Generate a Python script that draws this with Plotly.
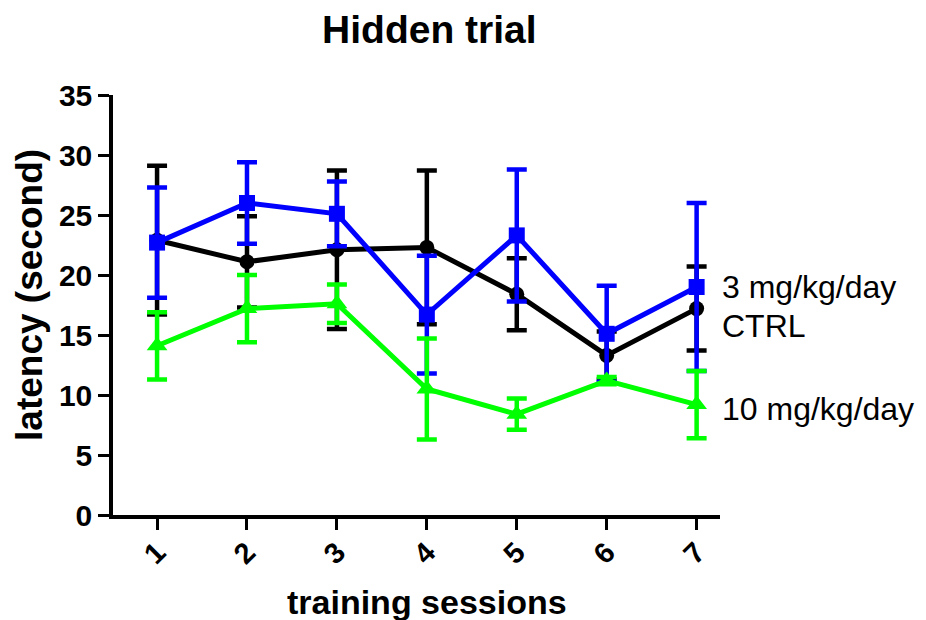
import plotly.graph_objects as go

sessions = [1, 2, 3, 4, 5, 6, 7]

ctrl_mean = [22.9, 21.1, 22.1, 22.3, 18.4, 13.3, 17.2]
ctrl_err = [6.2, 3.8, 6.6, 6.4, 3.0, 2.0, 3.5]

mg3_mean = [22.7, 26.0, 25.1, 16.7, 23.3, 15.1, 19.0]
mg3_err = [4.6, 3.4, 2.7, 4.9, 5.5, 4.0, 7.0]

mg10_mean = [14.1, 17.2, 17.6, 10.5, 8.4, 11.2, 9.2]
mg10_err = [2.8, 2.8, 1.6, 4.2, 1.3, 0.3, 2.8]

series_names = ["CTRL", "3 mg/kg/day", "10 mg/kg/day"]
y_ticks = [0, 5, 10, 15, 20, 25, 30, 35]

FONT = "Arial, Liberation Sans, sans-serif"

fig = go.Figure()

def add(name, mean, err, color, symbol, size):
    fig.add_trace(go.Scatter(
        x=sessions, y=mean, name=name, mode="lines+markers",
        line=dict(color=color, width=5),
        marker=dict(color=color, symbol=symbol, size=size),
        error_y=dict(type="data", array=err, visible=True, color=color,
                     thickness=4.5, width=10),
        showlegend=False,
    ))

add(series_names[0], ctrl_mean, ctrl_err, "#000000", "circle", 15)
add(series_names[1], mg3_mean, mg3_err, "#0000FF", "square", 16)
add(series_names[2], mg10_mean, mg10_err, "#00FF00", "triangle-up", 18)

label_y = [15.75, 19.0, 8.85]
for name, yv in zip(series_names, label_y):
    fig.add_annotation(x=1.0, xref="paper", y=yv, yref="y", text=name,
                       showarrow=False, xanchor="left", yanchor="middle",
                       xshift=0, font=dict(family=FONT, size=32, color="black"))

# axis titles
fig.add_annotation(x=0.517, xref="paper", y=0, yref="paper", yshift=-87,
                   text="<b>training sessions</b>", showarrow=False,
                   xanchor="center", yanchor="middle",
                   font=dict(family=FONT, size=34, color="black"))
fig.add_annotation(x=0, xref="paper", xshift=-83, y=0.524, yref="paper",
                   text="<b>latency (second)</b>", showarrow=False, textangle=-90,
                   xanchor="center", yanchor="middle",
                   font=dict(family=FONT, size=37, color="black"))

fig.update_layout(
    width=926, height=620,
    margin=dict(l=105, r=214, t=87, b=113),
    paper_bgcolor="white", plot_bgcolor="white",
    title=dict(text="<b>Hidden trial</b>", x=0.455, xanchor="center",
               y=0.965, yanchor="middle",
               font=dict(family=FONT, size=39, color="black")),
    font=dict(family=FONT, color="black"),
)

fig.update_xaxes(
    range=[0.51, 7.26], tickmode="array", tickvals=sessions,
    ticktext=["<b>%d</b>" % s for s in sessions],
    tickangle=-45, ticks="outside", ticklen=11, tickwidth=3, tickcolor="black",
    ticklabelstandoff=-6,
    showline=True, linecolor="black", linewidth=3.5, showgrid=False, zeroline=False,
    tickfont=dict(family=FONT, size=29, color="black"),
)
fig.update_yaxes(
    range=[0, 35], tickmode="array", tickvals=y_ticks,
    ticktext=["<b>%d</b>" % v for v in y_ticks],
    ticks="outside", ticklen=11, tickwidth=3, tickcolor="black",
    showline=True, linecolor="black", linewidth=3.5, showgrid=False, zeroline=False,
    tickfont=dict(family=FONT, size=30, color="black"),
)

fig.write_html("out.html")
